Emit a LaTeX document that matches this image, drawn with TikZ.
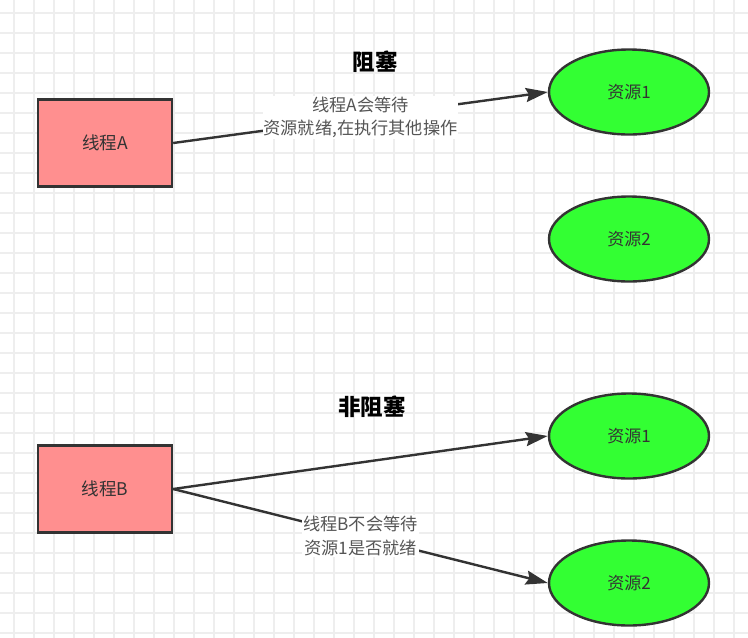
\documentclass[tikz,border=0pt]{standalone}
\usepackage{fontspec}
\setmainfont{Noto Sans CJK SC}
\usetikzlibrary{arrows.meta,shapes.geometric}
\definecolor{rectfill}{HTML}{FF8F8F}
\definecolor{ellfill}{HTML}{33FF33}
\definecolor{stroke}{HTML}{333333}
\definecolor{gridc}{HTML}{EEEEEE}
\definecolor{labc}{HTML}{555555}
\begin{document}
\begin{tikzpicture}[x=1pt,y=-1pt,
  gridline/.style={draw=gridc,line width=1.2pt},
  thread/.style={draw=stroke,fill=rectfill,line width=2.4pt,minimum width=134pt,minimum height=87pt,inner sep=0pt,text=stroke,font=\fontsize{17.5}{20}\selectfont},
  res/.style={ellipse,draw=stroke,fill=ellfill,line width=2.4pt,minimum width=160pt,minimum height=85pt,inner sep=0pt,text=stroke,font=\fontsize{17}{20}\selectfont},
  conn/.style={draw=stroke,line width=2.4pt,-{Stealth[length=22pt,width=14pt,inset=3pt]}},
  lab/.style={midway,fill=white,align=center,inner sep=1pt,text=labc,font=\fontsize{17.2}{23.5}\selectfont},
  title/.style={font=\fontsize{22.5}{24}\selectfont\bfseries,text=black}]
\fill[white] (0,0) rectangle (748,638);
\useasboundingbox (0,0) rectangle (748,638);
\foreach \x in {14,34,...,734} \draw[gridline] (\x,0) -- (\x,638);
\foreach \y in {13,33,...,633} \draw[gridline] (0,\y) -- (748,\y);

\node[title] (t1) at (375,62) {阻塞};
\node[title] (t2) at (372,407) {非阻塞};

\node[thread] (a) at (105,143) {线程A};
\node[res] (ra1) at (629,92) {资源1};
\node[res] (ra2) at (629,239) {资源2};

\node[thread] (b) at (105,489) {线程B};
\node[res] (rb1) at (629,436) {资源1};
\node[res] (rb2) at (629,583) {资源2};

\draw[conn] (a.east) -- node[lab] (la) {线程A会等待\\资源就绪,在执行其他操作} (ra1.west);
\draw[conn] (b.east) -- (rb1.west);
\draw[conn] (b.east) -- node[lab] (lb) {线程B不会等待\\资源1是否就绪} (rb2.west);
\end{tikzpicture}
\end{document}
